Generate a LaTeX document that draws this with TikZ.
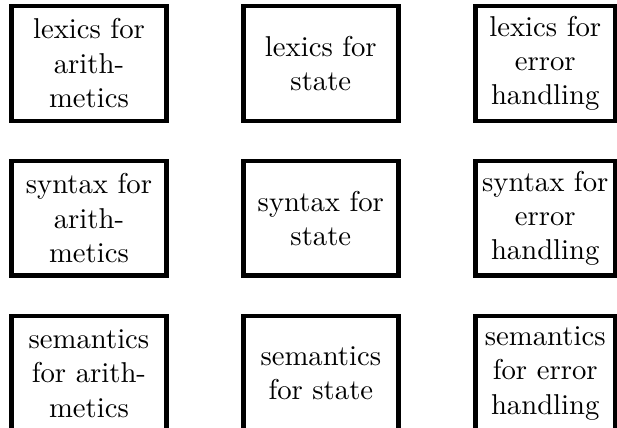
\documentclass[tikz,border=0pt]{standalone}
\usetikzlibrary{positioning}

\begin{document}
\begin{tikzpicture}[
  part/.style={draw, line width=1.6pt, align=center, text width=46pt,
    minimum width=54pt, minimum height=40pt, inner xsep=1pt, inner ysep=3pt, outer sep=0pt},
  narrow/.style={part, text width=45.5pt, minimum width=48.8pt}
]
\clip (0,0) rectangle (215pt,148.8pt);

% lexics
\node[part] (lexar) at (31pt,126.7pt) {lexics for\\arith-\\metics};
\node[part, right=26.8pt of lexar] (lexst) {lexics for\\state};
\node[narrow, right=26.8pt of lexst] (lexerr) {lexics for\\error\\handling};

% syntax
\node[part, below=14pt of lexar] (synar) {syntax for\\arith-\\metics};
\node[part, right=26.8pt of synar] (synst) {syntax for\\state};
\node[narrow, right=26.8pt of synst] (synerr) {syntax for\\error\\handling};

% semantics
\node[part, below=14pt of synar] (semar) {semantics\\for arith-\\metics};
\node[part, right=26.8pt of semar] (semst) {semantics\\for state};
\node[narrow, right=26.8pt of semst] (semerr) {semantics\\for error\\handling};
\end{tikzpicture}
\end{document}
